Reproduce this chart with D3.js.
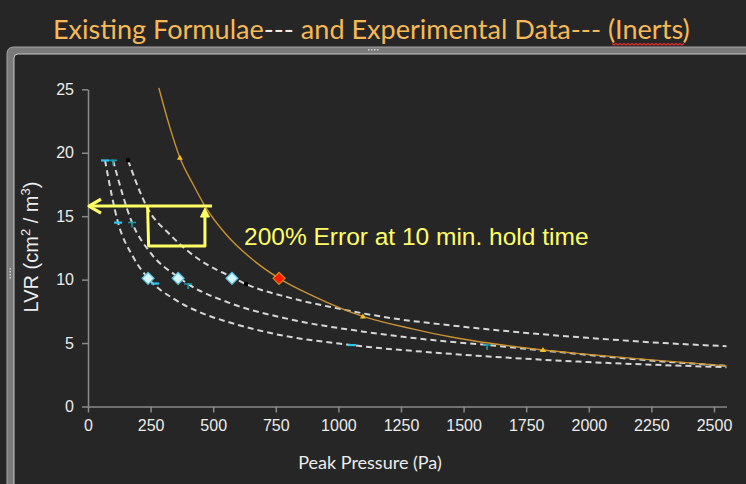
<!DOCTYPE html>
<html>
<head>
<meta charset="utf-8">
<script src="https://cdn.jsdelivr.net/npm/d3@7"></script>
<style>
  html, body { margin: 0; padding: 0; background: #262626; }
  svg { display: block; }
</style>
</head>
<body>
<svg id="paper"></svg>
<script>
// curve data (Peak Pressure in Pa, LVR)
let curveA_x = [68, 120, 180, 240, 350, 450, 570, 750, 1050, 1450, 2000, 2550];
let curveA_y = [19.4, 14.5, 11.8, 10.1, 8.4, 7.4, 6.6, 5.7, 4.85, 4.15, 3.5, 3.1];

let curveB_x = [100, 176, 250, 360, 400, 567, 800, 1100, 1446, 1594, 1800, 2200, 2550];
let curveB_y = [19.4, 14.5, 12.1, 10.2, 9.65, 8.15, 6.9, 5.9, 5.1, 4.85, 4.45, 3.7, 3.2];

let curveC_x = [160, 236, 330, 450, 575, 631, 800, 979, 1200, 1446, 1750, 2005, 2300, 2550];
let curveC_y = [19.4, 15.7, 13.5, 11.5, 10.2, 9.65, 8.6, 7.8, 7.0, 6.4, 5.8, 5.4, 5.0, 4.75];

let formula_x = [283, 330, 367, 420, 467, 550, 650, 763, 900, 1098, 1300, 1446, 1600, 1817, 2000, 2200, 2550];
let formula_y = [25.1, 21.8, 19.6, 17.5, 15.8, 13.6, 11.7, 10.1, 8.7, 7.1, 6.1, 5.5, 5.0, 4.45, 4.1, 3.75, 3.2];

// markers
let dashA_x = [68, 120, 268, 1054];
let dashA_y = [19.4, 14.5, 9.7, 4.85];
let plusB_x = [100, 176, 400, 1594];
let plusB_y = [19.4, 14.5, 9.65, 4.85];
let blackC_x = [160, 631];
let blackC_y = [19.4, 9.65];
let triF_x = [367, 1098, 1817];
let triF_y = [19.6, 7.1, 4.45];
let expt_x = [240, 360, 575];
let expt_y = [10.1, 10.1, 10.1];
let red_x = [763];
let red_y = [10.1];

// annotation (data units)
let errLevel = 15.8;     // LVR
let boxBottom = 12.65;
let boxLeft = 238;
let boxRight = 467;
let arrowEnd = 495;

let xTicks = [0, 250, 500, 750, 1000, 1250, 1500, 1750, 2000, 2250, 2500];
let yTicks = [0, 5, 10, 15, 20, 25];

let W = 746, H = 484;
let svg = d3.select("#paper").attr("width", W).attr("height", H);

let x = d3.scaleLinear().domain([0, 2550]).range([88, 726.5]);
let y = d3.scaleLinear().domain([0, 25]).range([406.5, 89.3]);

let zip = (xs, ys) => xs.map((v, i) => [v, ys[i]]);

// frame of the chart object
svg.append("rect").attr("x", 0).attr("y", 0).attr("width", W).attr("height", H).attr("fill", "#262626");
svg.append("path")
    .attr("d", "M7,484 L7,54 Q7,47 14,47 L746,47 L746,54 L18,54 Q14,54 14,58 L14,484 Z")
    .attr("fill", "#7a7a7a");
svg.append("path")
    .attr("d", "M14,484 L14,58 Q14,54 18,54 L746,54")
    .attr("fill", "none").attr("stroke", "#c9c9c9").attr("stroke-width", 1);
svg.append("path")
    .attr("d", "M7,484 L7,54 Q7,47 14,47 L746,47")
    .attr("fill", "none").attr("stroke", "#a5a5a5").attr("stroke-width", 1);
// grips
[368, 371, 374, 377].forEach(gx => {
    svg.append("rect").attr("x", gx).attr("y", 49).attr("width", 1.5).attr("height", 1.5).attr("fill", "#d0d0d0");
});
[268, 271, 274, 277].forEach(gy => {
    svg.append("rect").attr("x", 9.5).attr("y", gy).attr("width", 1.5).attr("height", 1.5).attr("fill", "#d0d0d0");
});

// title, sized so that it spans the same width as in the slide
let title = svg.append("text")
    .attr("x", 53).attr("y", 39)
    .style("font-family", "Lato, 'Open Sans', sans-serif")
    .style("font-size", "28px")
    .attr("fill", "#f7b955");
title.append("tspan").text("Existing Formulae");
title.append("tspan").attr("fill", "#e8e8e8").text("---");
title.append("tspan").text(" and Experimental Data--- (");
title.append("tspan").text("Inerts");
title.append("tspan").text(")");
let tw = title.node().getComputedTextLength();
title.style("font-size", (28 * 637 / tw).toFixed(2) + "px");

// wavy red underline under "Inerts"
let wave = [];
for (let wx = 612; wx <= 685; wx += 2) wave.push([wx, 43.5 + ((wx / 2) % 2 === 0 ? 0 : 1.5)]);
svg.append("path").attr("d", d3.line()(wave)).attr("fill", "none")
    .attr("stroke", "#e03030").attr("stroke-width", 1.2);

// axes
let g = svg.append("g");
let xAxis = g.append("g")
    .attr("transform", "translate(0," + y(0) + ")")
    .call(d3.axisBottom(x).tickValues(xTicks).tickFormat(d3.format("d"))
        .tickSize(6).tickSizeOuter(0).tickPadding(7));
let yAxis = g.append("g")
    .attr("transform", "translate(" + x(0) + ",0)")
    .call(d3.axisLeft(y).tickValues(yTicks).tickSize(6).tickSizeOuter(0).tickPadding(8));
[xAxis, yAxis].forEach(a => {
    a.select(".domain").attr("stroke", "#8a8a8a").attr("stroke-width", 1.5);
    a.selectAll(".tick line").attr("stroke", "#8a8a8a").attr("stroke-width", 1.5);
    a.selectAll(".tick text")
        .attr("fill", "#ececec")
        .style("font-family", "'Liberation Sans', Arial, sans-serif")
        .style("font-size", "16px");
});

// axis titles
svg.append("text")
    .attr("x", 370).attr("y", 469)
    .attr("text-anchor", "middle")
    .attr("fill", "#ececec")
    .style("font-family", "Lato, sans-serif")
    .style("font-size", "18px")
    .text("Peak Pressure (Pa)");

let yl = svg.append("text")
    .attr("transform", "translate(38,247) rotate(-90)")
    .attr("text-anchor", "middle")
    .attr("fill", "#ececec")
    .style("font-family", "'Liberation Sans', Arial, sans-serif")
    .style("font-size", "20px");
yl.append("tspan").text("LVR (cm");
yl.append("tspan").attr("dy", -8).style("font-size", "13px").text("2");
yl.append("tspan").attr("dy", 8).text(" / m");
yl.append("tspan").attr("dy", -8).style("font-size", "13px").text("3");
yl.append("tspan").attr("dy", 8).text(")");

// curves
let line = d3.line().x(d => x(d[0])).y(d => y(d[1])).curve(d3.curveMonotoneX);

[[curveA_x, curveA_y], [curveB_x, curveB_y], [curveC_x, curveC_y]].forEach(c => {
    g.append("path")
        .datum(zip(c[0], c[1]))
        .attr("d", line)
        .attr("fill", "none")
        .attr("stroke", "#d6d6d6")
        .attr("stroke-width", 2)
        .attr("stroke-dasharray", "6,4");
});

g.append("path")
    .datum(zip(formula_x, formula_y))
    .attr("d", line)
    .attr("fill", "none")
    .attr("stroke", "#c99231")
    .attr("stroke-width", 1.4);

// small series markers
g.selectAll(".mA").data(zip(dashA_x, dashA_y)).enter().append("rect")
    .attr("x", d => x(d[0]) - 4).attr("y", d => y(d[1]) - 1)
    .attr("width", 8).attr("height", 2.2).attr("fill", "#2ec4f0");
g.selectAll(".mB").data(zip(plusB_x, plusB_y)).enter().append("path")
    .attr("d", d => "M" + (x(d[0]) - 4) + "," + y(d[1]) + "h8M" + x(d[0]) + "," + (y(d[1]) - 1) + "v6")
    .attr("stroke", "#1d9aa8").attr("stroke-width", 1.6);
g.selectAll(".mC").data(zip(blackC_x, blackC_y)).enter().append("rect")
    .attr("x", d => x(d[0]) - 2).attr("y", d => y(d[1]) - 2)
    .attr("width", 4).attr("height", 4).attr("fill", "#000");
g.selectAll(".mF").data(zip(triF_x, triF_y)).enter().append("path")
    .attr("d", d => "M" + x(d[0]) + "," + (y(d[1]) - 3) + "l3,5h-6z")
    .attr("fill", "#f0c020");

// experimental diamonds
g.selectAll(".expt").data(zip(expt_x, expt_y)).enter().append("path")
    .attr("d", d => "M" + x(d[0]) + "," + (y(d[1]) - 6) + "l6,6l-6,6l-6,-6z")
    .attr("fill", "#d3f6ff").attr("stroke", "#52bfe6").attr("stroke-width", 1.2);
g.selectAll(".red").data(zip(red_x, red_y)).enter().append("path")
    .attr("d", d => "M" + x(d[0]) + "," + (y(d[1]) - 6) + "l6,6l-6,6l-6,-6z")
    .attr("fill", "#ff1a00").attr("stroke", "#d98a1a").attr("stroke-width", 1.2);

// annotation
let ann = g.append("g").attr("stroke", "#ffff66").attr("fill", "none")
    .attr("stroke-width", 3).attr("stroke-linejoin", "round");
ann.append("line")
    .attr("x1", x(0) + 2).attr("x2", x(arrowEnd))
    .attr("y1", y(errLevel)).attr("y2", y(errLevel));
ann.append("path")
    .attr("d", "M" + (x(0) + 13) + "," + (y(errLevel) - 7) + "L" + (x(0) + 1) + "," + y(errLevel) + "L" + (x(0) + 13) + "," + (y(errLevel) + 7))
    .attr("stroke-width", 3.2);
ann.append("path")
    .attr("d", "M" + x(boxLeft) + "," + y(errLevel) + "L" + (x(boxLeft) + 1) + "," + y(boxBottom) +
        "L" + x(boxRight) + "," + y(boxBottom) + "L" + x(boxRight) + "," + (y(errLevel) + 9));
ann.append("path")
    .attr("d", "M" + x(boxRight) + "," + (y(errLevel) + 2) + "l4.5,9h-9z")
    .attr("fill", "#ffff66").attr("stroke-width", 1);

svg.append("text")
    .attr("x", 244).attr("y", 245)
    .attr("fill", "#ffff66")
    .style("font-family", "'Liberation Sans', Arial, sans-serif")
    .style("font-size", "24.5px")
    .text("200% Error at 10 min. hold time");
</script>
</body>
</html>
